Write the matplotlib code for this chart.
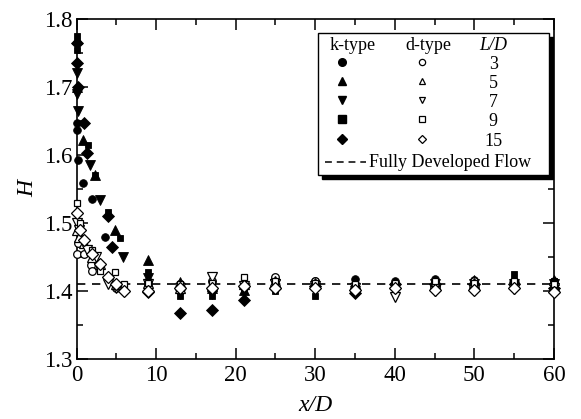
import numpy as np
import matplotlib
matplotlib.use("Agg")
from matplotlib import pyplot as plt
from matplotlib.patches import Rectangle
from matplotlib.ticker import MultipleLocator

plt.rcParams['font.family'] = ['Liberation Serif', 'DejaVu Serif']

# far-field stations shared by every series
far_x = [9, 13, 17, 21, 25, 30, 35, 40, 45, 50, 55, 60]

# k-type (filled markers)
k3_x = [0, 0.1, 0.2, 0.8, 2.0, 3.6] + far_x
k3_h = [1.647, 1.637, 1.593, 1.559, 1.535, 1.480,
        1.415, 1.410, 1.405, 1.410, 1.418, 1.415, 1.418, 1.415, 1.418, 1.416, 1.415, 1.415]
k5_x = [0, 0.1, 0.8, 2.3, 4.8] + far_x
k5_h = [1.770, 1.700, 1.622, 1.570, 1.490,
        1.446, 1.413, 1.405, 1.402, 1.410, 1.412, 1.410, 1.412, 1.415, 1.416, 1.420, 1.416]
k7_x = [0, 0.1, 0.2, 1.7, 3.0, 5.8] + far_x
k7_h = [1.720, 1.690, 1.665, 1.585, 1.534, 1.450,
        1.419, 1.395, 1.395, 1.400, 1.410, 1.405, 1.400, 1.405, 1.410, 1.410, 1.410, 1.410]
k9_x = [0, 0.1, 1.5, 2.3, 3.9, 5.5] + far_x
k9_h = [1.775, 1.755, 1.615, 1.570, 1.516, 1.478,
        1.428, 1.393, 1.393, 1.400, 1.400, 1.392, 1.405, 1.410, 1.415, 1.415, 1.425, 1.415]
k15_x = [0, 0.1, 0.2, 1.0, 1.3, 3.9, 4.5] + far_x
k15_h = [1.765, 1.735, 1.700, 1.647, 1.603, 1.510, 1.465,
         1.399, 1.368, 1.372, 1.387, 1.405, 1.408, 1.397, 1.410, 1.410, 1.410, 1.410, 1.405]

# d-type (open markers)
d3_x = [0, 0.2, 1.0, 1.8, 2.0, 5.0, 6.0] + far_x
d3_h = [1.455, 1.470, 1.455, 1.438, 1.430, 1.405, 1.400,
        1.410, 1.410, 1.415, 1.410, 1.420, 1.415, 1.410, 1.410, 1.415, 1.415, 1.410, 1.405]
d5_x = [0, 0.3, 1.0, 2.0, 3.0, 5.0] + far_x
d5_h = [1.490, 1.480, 1.470, 1.450, 1.440, 1.410,
        1.412, 1.405, 1.408, 1.410, 1.415, 1.412, 1.410, 1.410, 1.412, 1.412, 1.412, 1.408]
d7_x = [0, 0.3, 1.3, 2.5, 4.0, 5.0] + far_x
d7_h = [1.500, 1.490, 1.460, 1.450, 1.410, 1.405,
        1.410, 1.405, 1.420, 1.408, 1.410, 1.408, 1.405, 1.391, 1.400, 1.402, 1.403, 1.404]
d9_x = [0, 0.5, 1.0, 2.0, 3.0, 4.8, 6.0] + far_x
d9_h = [1.530, 1.500, 1.475, 1.460, 1.430, 1.428, 1.410,
        1.412, 1.410, 1.412, 1.420, 1.415, 1.412, 1.410, 1.412, 1.414, 1.412, 1.414, 1.410]
d15_x = [0, 0.5, 1.0, 2.0, 3.0, 4.0, 5.0, 6.0] + far_x
d15_h = [1.515, 1.490, 1.475, 1.455, 1.440, 1.420, 1.410, 1.400,
         1.400, 1.405, 1.405, 1.408, 1.405, 1.405, 1.402, 1.405, 1.402, 1.402, 1.405, 1.398]

ld_labels = ['3', '5', '7', '9', '15']
markers = ['o', '^', 'v', 's', 'D']
sizes = [5.5, 6.5, 6.5, 5.0, 6.0]
k_series = [(k3_x, k3_h), (k5_x, k5_h), (k7_x, k7_h), (k9_x, k9_h), (k15_x, k15_h)]
d_series = [(d3_x, d3_h), (d5_x, d5_h), (d7_x, d7_h), (d9_x, d9_h), (d15_x, d15_h)]
fully_developed = 1.41

fig = plt.figure(figsize=(5.81, 4.19), dpi=100)
ax = fig.add_axes([0.1317, 0.1432, 0.8218, 0.8115])

for (x, h), m, s in zip(k_series, markers, sizes):
    ax.plot(x, h, linestyle='none', marker=m, markersize=s, mfc='black', mec='black',
            mew=0.6, clip_on=False, zorder=3)
for (x, h), m, s in zip(d_series, markers, sizes):
    ax.plot(x, h, linestyle='none', marker=m, markersize=s, mfc='white', mec='black',
            mew=0.9, clip_on=False, zorder=4)

ax.axhline(fully_developed, color='black', lw=1.2, dashes=(5, 4), zorder=2)

ax.set_xlim(0, 60)
ax.set_ylim(1.3, 1.8)
ax.xaxis.set_major_locator(MultipleLocator(10))
ax.xaxis.set_minor_locator(MultipleLocator(5))
ax.yaxis.set_major_locator(MultipleLocator(0.1))
ax.yaxis.set_minor_locator(MultipleLocator(0.05))
ax.tick_params(which='both', direction='in', top=True, right=True, width=1.1)
ax.tick_params(which='major', length=8, labelsize=16.5)
ax.tick_params(which='minor', length=4)
ax.tick_params(axis='x', pad=4)
ax.tick_params(axis='y', pad=3)
for sp in ax.spines.values():
    sp.set_linewidth(1.2)

ax.set_xlabel('x/D', fontsize=17, style='italic', labelpad=7)
ax.set_ylabel('H', fontsize=17, style='italic', labelpad=4)

# hand-made legend
tr = ax.transAxes
box_x0, box_x1, box_y0, box_y1 = 0.5058, 0.9895, 0.5412, 0.9588
ax.add_patch(Rectangle((box_x0 + 0.008, box_y0 - 0.011), box_x1 - box_x0, box_y1 - box_y0,
                       transform=tr, facecolor='black', edgecolor='black', zorder=9))
ax.add_patch(Rectangle((box_x0, box_y0), box_x1 - box_x0, box_y1 - box_y0,
                       transform=tr, facecolor='white', edgecolor='black', lw=1.0, zorder=10))

fs = 13
ax.text(0.579, 0.922, 'k-type', transform=tr, ha='center', va='center', fontsize=fs, zorder=11)
ax.text(0.736, 0.922, 'd-type', transform=tr, ha='center', va='center', fontsize=fs, zorder=11)
ax.text(0.873, 0.922, 'L/D', transform=tr, ha='center', va='center', fontsize=fs,
        style='italic', zorder=11)
row_y = [0.8735, 0.8176, 0.7618, 0.7059, 0.6471]
for y, m, lab in zip(row_y, markers, ld_labels):
    ax.plot([0.556], [y], transform=tr, marker=m, markersize=5.5, mfc='black', mec='black',
            linestyle='none', clip_on=False, zorder=11)
    ax.plot([0.7236], [y], transform=tr, marker=m, markersize=4.5, mfc='white', mec='black',
            mew=0.9, linestyle='none', clip_on=False, zorder=11)
    ax.text(0.873, y - 0.006, lab, transform=tr, ha='center', va='center', fontsize=fs,
            zorder=11)
ax.plot([0.521, 0.607], [0.579, 0.579], transform=tr, color='black', lw=1.1,
        dashes=(4.5, 3.2), clip_on=False, zorder=11)
ax.text(0.612, 0.579, 'Fully Developed Flow', transform=tr, ha='left', va='center',
        fontsize=fs, zorder=11)

fig.savefig('out.png', dpi=100)
